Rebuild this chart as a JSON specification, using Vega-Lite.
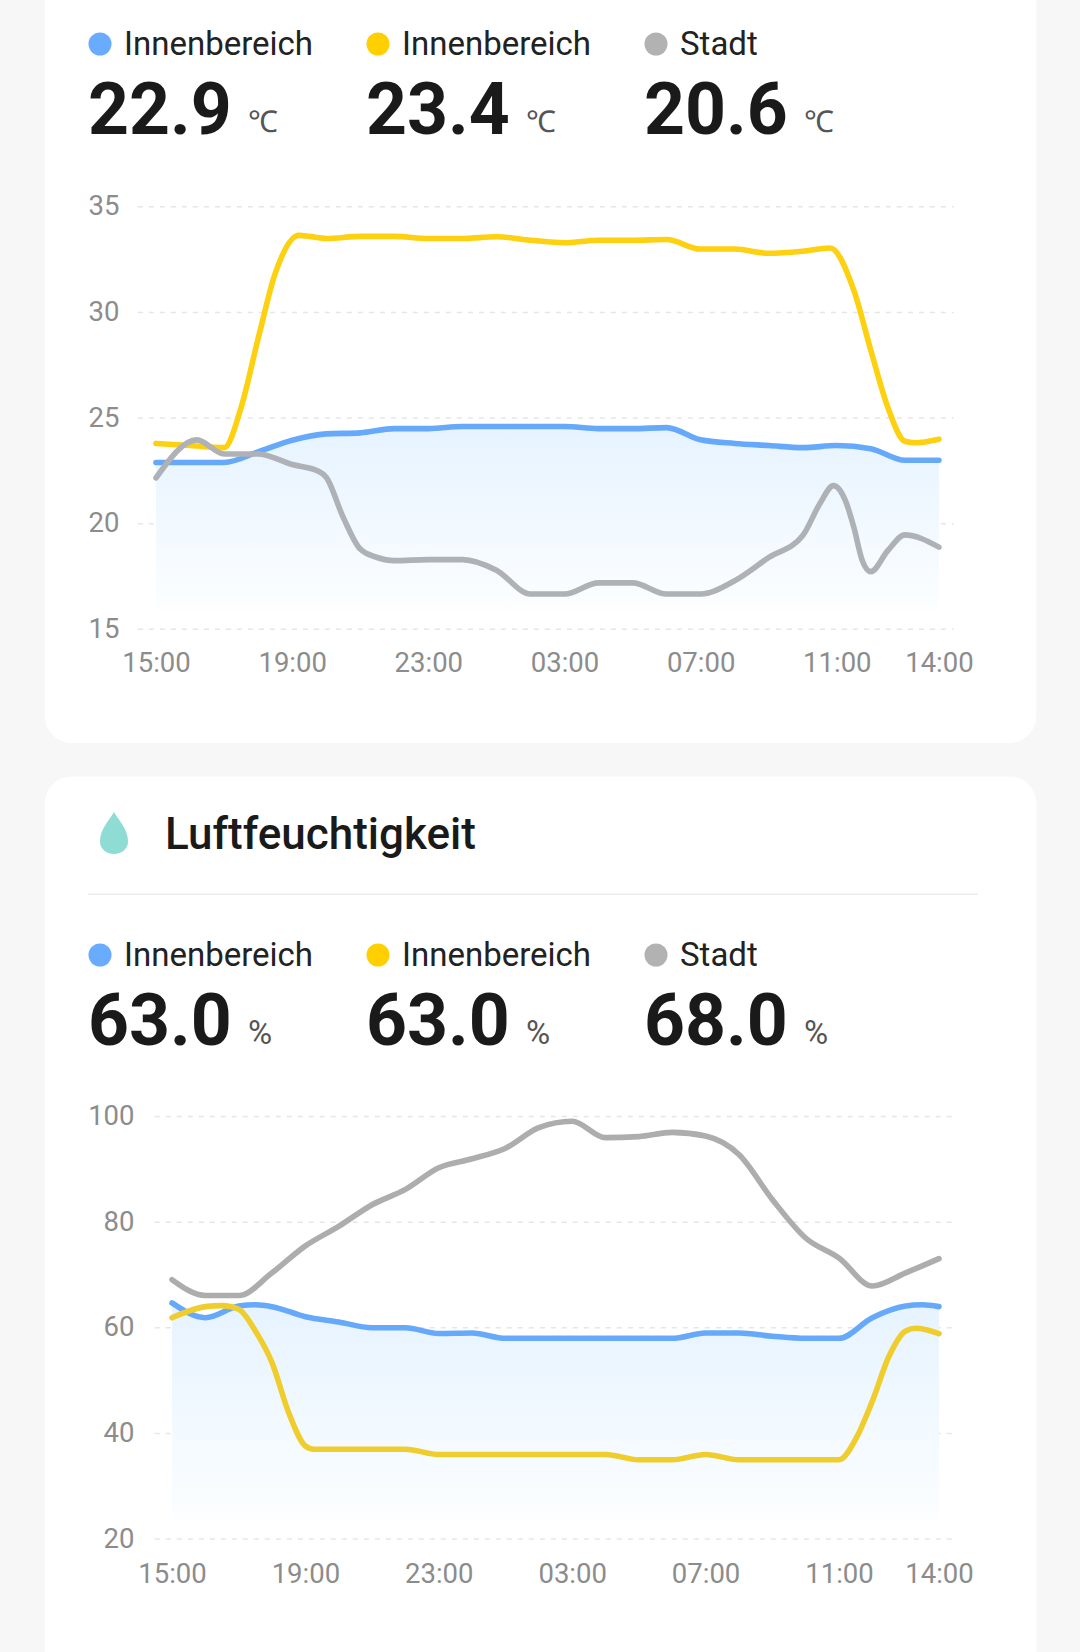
{
"$schema":"https://vega.github.io/schema/vega-lite/v6.json",
"width":1080,"height":1652,"padding":0,"autosize":{"type":"none"},"background":"#f7f7f7",
"config":{"view":{"stroke":null}},
"datasets":{
"temp":[
{"s":"A","t":"2024-01-01T15:00","v":22.9},{"s":"A","t":"2024-01-01T16:00","v":22.9},{"s":"A","t":"2024-01-01T17:00","v":22.9},{"s":"A","t":"2024-01-01T18:00","v":23.4},{"s":"A","t":"2024-01-01T19:00","v":23.95},{"s":"A","t":"2024-01-01T20:00","v":24.25},{"s":"A","t":"2024-01-01T21:00","v":24.3},{"s":"A","t":"2024-01-01T22:00","v":24.5},{"s":"A","t":"2024-01-01T23:00","v":24.5},{"s":"A","t":"2024-01-02T00:00","v":24.6},{"s":"A","t":"2024-01-02T01:00","v":24.6},{"s":"A","t":"2024-01-02T02:00","v":24.6},{"s":"A","t":"2024-01-02T03:00","v":24.6},{"s":"A","t":"2024-01-02T04:00","v":24.5},{"s":"A","t":"2024-01-02T05:00","v":24.5},{"s":"A","t":"2024-01-02T06:00","v":24.55},{"s":"A","t":"2024-01-02T07:00","v":23.97},{"s":"A","t":"2024-01-02T08:00","v":23.8},{"s":"A","t":"2024-01-02T09:00","v":23.7},{"s":"A","t":"2024-01-02T10:00","v":23.6},{"s":"A","t":"2024-01-02T11:00","v":23.7},{"s":"A","t":"2024-01-02T12:00","v":23.55},{"s":"A","t":"2024-01-02T13:00","v":23.0},{"s":"A","t":"2024-01-02T14:00","v":23.0},
{"s":"B","t":"2024-01-01T15:00","v":23.8},{"s":"B","t":"2024-01-01T16:00","v":23.7},{"s":"B","t":"2024-01-01T17:00","v":23.6},{"s":"B","t":"2024-01-01T17:30","v":25.5},{"s":"B","t":"2024-01-01T18:00","v":28.76},{"s":"B","t":"2024-01-01T18:30","v":31.84},{"s":"B","t":"2024-01-01T19:12","v":33.65},{"s":"B","t":"2024-01-01T19:30","v":33.6},{"s":"B","t":"2024-01-01T20:00","v":33.5},{"s":"B","t":"2024-01-01T21:00","v":33.6},{"s":"B","t":"2024-01-01T22:00","v":33.6},{"s":"B","t":"2024-01-01T23:00","v":33.5},{"s":"B","t":"2024-01-02T00:00","v":33.5},{"s":"B","t":"2024-01-02T01:00","v":33.58},{"s":"B","t":"2024-01-02T02:00","v":33.42},{"s":"B","t":"2024-01-02T03:00","v":33.3},{"s":"B","t":"2024-01-02T04:00","v":33.42},{"s":"B","t":"2024-01-02T05:00","v":33.42},{"s":"B","t":"2024-01-02T06:00","v":33.45},{"s":"B","t":"2024-01-02T07:00","v":33.0},{"s":"B","t":"2024-01-02T08:00","v":33.0},{"s":"B","t":"2024-01-02T09:00","v":32.8},{"s":"B","t":"2024-01-02T10:00","v":32.9},{"s":"B","t":"2024-01-02T10:48","v":33.05},{"s":"B","t":"2024-01-02T11:30","v":31.05},{"s":"B","t":"2024-01-02T12:00","v":28.2},{"s":"B","t":"2024-01-02T12:30","v":25.5},{"s":"B","t":"2024-01-02T13:00","v":23.9},{"s":"B","t":"2024-01-02T13:18","v":23.83},{"s":"B","t":"2024-01-02T14:00","v":24.0},
{"s":"C","t":"2024-01-01T15:00","v":22.17},{"s":"C","t":"2024-01-01T16:12","v":23.97},{"s":"C","t":"2024-01-01T17:00","v":23.3},{"s":"C","t":"2024-01-01T18:00","v":23.3},{"s":"C","t":"2024-01-01T19:00","v":22.8},{"s":"C","t":"2024-01-01T19:45","v":22.5},{"s":"C","t":"2024-01-01T20:00","v":22.2},{"s":"C","t":"2024-01-01T20:30","v":20.3},{"s":"C","t":"2024-01-01T21:00","v":18.8},{"s":"C","t":"2024-01-01T21:30","v":18.4},{"s":"C","t":"2024-01-01T22:00","v":18.25},{"s":"C","t":"2024-01-01T23:00","v":18.3},{"s":"C","t":"2024-01-02T00:00","v":18.3},{"s":"C","t":"2024-01-02T01:00","v":17.8},{"s":"C","t":"2024-01-02T02:00","v":16.67},{"s":"C","t":"2024-01-02T03:00","v":16.67},{"s":"C","t":"2024-01-02T04:00","v":17.2},{"s":"C","t":"2024-01-02T05:00","v":17.2},{"s":"C","t":"2024-01-02T06:00","v":16.67},{"s":"C","t":"2024-01-02T07:00","v":16.67},{"s":"C","t":"2024-01-02T08:00","v":17.3},{"s":"C","t":"2024-01-02T09:00","v":18.4},{"s":"C","t":"2024-01-02T10:00","v":19.44},{"s":"C","t":"2024-01-02T10:30","v":20.94},{"s":"C","t":"2024-01-02T10:54","v":21.8},{"s":"C","t":"2024-01-02T11:15","v":21.1},{"s":"C","t":"2024-01-02T11:30","v":19.83},{"s":"C","t":"2024-01-02T11:45","v":18.25},{"s":"C","t":"2024-01-02T12:00","v":17.73},{"s":"C","t":"2024-01-02T12:30","v":18.73},{"s":"C","t":"2024-01-02T13:00","v":19.47},{"s":"C","t":"2024-01-02T14:00","v":18.89}
],
"hum":[
{"s":"A","t":"2024-01-01T15:00","v":64.7},{"s":"A","t":"2024-01-01T16:00","v":61.9},{"s":"A","t":"2024-01-01T17:00","v":64.1},{"s":"A","t":"2024-01-01T17:30","v":64.35},{"s":"A","t":"2024-01-01T18:00","v":64.0},{"s":"A","t":"2024-01-01T19:00","v":62.1},{"s":"A","t":"2024-01-01T20:00","v":61.1},{"s":"A","t":"2024-01-01T21:00","v":60},{"s":"A","t":"2024-01-01T22:00","v":60},{"s":"A","t":"2024-01-01T23:00","v":58.9},{"s":"A","t":"2024-01-02T00:00","v":59},{"s":"A","t":"2024-01-02T01:00","v":58},{"s":"A","t":"2024-01-02T02:00","v":58},{"s":"A","t":"2024-01-02T03:00","v":58},{"s":"A","t":"2024-01-02T04:00","v":58},{"s":"A","t":"2024-01-02T05:00","v":58},{"s":"A","t":"2024-01-02T06:00","v":58},{"s":"A","t":"2024-01-02T07:00","v":59},{"s":"A","t":"2024-01-02T08:00","v":59},{"s":"A","t":"2024-01-02T09:00","v":58.4},{"s":"A","t":"2024-01-02T10:00","v":58},{"s":"A","t":"2024-01-02T11:00","v":58},{"s":"A","t":"2024-01-02T12:00","v":61.9},{"s":"A","t":"2024-01-02T13:00","v":64.1},{"s":"A","t":"2024-01-02T13:30","v":64.35},{"s":"A","t":"2024-01-02T14:00","v":64},
{"s":"B","t":"2024-01-01T15:00","v":61.9},{"s":"B","t":"2024-01-01T16:00","v":64},{"s":"B","t":"2024-01-01T16:30","v":64.2},{"s":"B","t":"2024-01-01T17:00","v":63.5},{"s":"B","t":"2024-01-01T17:30","v":59.4},{"s":"B","t":"2024-01-01T18:00","v":53.4},{"s":"B","t":"2024-01-01T18:30","v":43.9},{"s":"B","t":"2024-01-01T19:00","v":37.6},{"s":"B","t":"2024-01-01T19:15","v":37},{"s":"B","t":"2024-01-01T20:00","v":37},{"s":"B","t":"2024-01-01T21:00","v":37},{"s":"B","t":"2024-01-01T22:00","v":37},{"s":"B","t":"2024-01-01T23:00","v":36},{"s":"B","t":"2024-01-02T00:00","v":36},{"s":"B","t":"2024-01-02T01:00","v":36},{"s":"B","t":"2024-01-02T02:00","v":36},{"s":"B","t":"2024-01-02T03:00","v":36},{"s":"B","t":"2024-01-02T04:00","v":36},{"s":"B","t":"2024-01-02T05:00","v":35},{"s":"B","t":"2024-01-02T06:00","v":35},{"s":"B","t":"2024-01-02T07:00","v":36},{"s":"B","t":"2024-01-02T08:00","v":35},{"s":"B","t":"2024-01-02T09:00","v":35},{"s":"B","t":"2024-01-02T10:00","v":35},{"s":"B","t":"2024-01-02T11:00","v":35},{"s":"B","t":"2024-01-02T11:30","v":38.9},{"s":"B","t":"2024-01-02T12:00","v":46.1},{"s":"B","t":"2024-01-02T12:30","v":54.6},{"s":"B","t":"2024-01-02T13:00","v":59.4},{"s":"B","t":"2024-01-02T13:18","v":59.9},{"s":"B","t":"2024-01-02T14:00","v":58.9},
{"s":"C","t":"2024-01-01T15:00","v":69.1},{"s":"C","t":"2024-01-01T16:00","v":66.1},{"s":"C","t":"2024-01-01T17:00","v":66.1},{"s":"C","t":"2024-01-01T18:00","v":70.4},{"s":"C","t":"2024-01-01T19:00","v":75.5},{"s":"C","t":"2024-01-01T20:00","v":79.2},{"s":"C","t":"2024-01-01T21:00","v":83.3},{"s":"C","t":"2024-01-01T22:00","v":86.2},{"s":"C","t":"2024-01-01T23:00","v":90.3},{"s":"C","t":"2024-01-02T00:00","v":92},{"s":"C","t":"2024-01-02T01:00","v":94},{"s":"C","t":"2024-01-02T02:00","v":97.9},{"s":"C","t":"2024-01-02T03:00","v":99.1},{"s":"C","t":"2024-01-02T04:00","v":96},{"s":"C","t":"2024-01-02T05:00","v":96.2},{"s":"C","t":"2024-01-02T06:00","v":97},{"s":"C","t":"2024-01-02T07:00","v":96.3},{"s":"C","t":"2024-01-02T08:00","v":92.8},{"s":"C","t":"2024-01-02T09:00","v":84.3},{"s":"C","t":"2024-01-02T10:00","v":77},{"s":"C","t":"2024-01-02T11:00","v":73.2},{"s":"C","t":"2024-01-02T12:00","v":67.9},{"s":"C","t":"2024-01-02T13:00","v":70.4},{"s":"C","t":"2024-01-02T14:00","v":73.1}
],
"head":[
{"metric":"Temperatur","s":"A","name":"Innenbereich","value":"22.9","unit":"℃"},
{"metric":"Temperatur","s":"B","name":"Innenbereich","value":"23.4","unit":"℃"},
{"metric":"Temperatur","s":"C","name":"Stadt","value":"20.6","unit":"℃"},
{"metric":"Luftfeuchtigkeit","s":"A","name":"Innenbereich","value":"63.0","unit":"%"},
{"metric":"Luftfeuchtigkeit","s":"B","name":"Innenbereich","value":"63.0","unit":"%"},
{"metric":"Luftfeuchtigkeit","s":"C","name":"Stadt","value":"68.0","unit":"%"}
]
},
"resolve":{"scale":{"x":"independent","y":"independent","color":"independent"}},
"layer":[
{
"data":{"values":[{"card":"Temperatur"}]},
"mark":{"type":"rect","fill":"#ffffff","cornerRadius":27},
"encoding":{
"x":{"datum":{"year":2024,"month":1,"date":1,"hours":11,"minutes":44},"axis":null,"scale":{"domain":["2024-01-01T10:25:02","2024-01-02T18:08:39"],"nice":false}},
"x2":{"datum":{"year":2024,"month":1,"date":2,"hours":16,"minutes":51,"seconds":36}},
"y":{"datum":47,"axis":null,"scale":{"domain":[-33.41,44.79],"nice":false,"zero":false}},
"y2":{"datum":9.62}
}
},
{
"data":{"values":[{"card":"Luftfeuchtigkeit"}]},
"mark":{"type":"rect","fill":"#ffffff","cornerRadius":27},
"encoding":{
"x":{"datum":{"year":2024,"month":1,"date":1,"hours":11,"minutes":11,"seconds":9},"axis":null,"scale":{"domain":["2024-01-01T09:50:32","2024-01-02T18:13:40"],"nice":false}},
"x2":{"datum":{"year":2024,"month":1,"date":2,"hours":16,"minutes":55,"seconds":15}},
"y":{"datum":164.38,"axis":null,"scale":{"domain":[-1.397,311.42],"nice":false,"zero":false}},
"y2":{"datum":-20}
}
},
{
"data":{"values":[{"tick":15},{"tick":20},{"tick":25},{"tick":30},{"tick":35}]},
"mark":{"type":"rule","stroke":"#e6e6e8","strokeWidth":1.5,"strokeDash":[5,6]},
"encoding":{
"x":{"datum":{"year":2024,"month":1,"date":1,"hours":14,"minutes":28},"axis":null,"scale":{"domain":["2024-01-01T10:25:02","2024-01-02T18:08:39"],"nice":false}},
"x2":{"datum":{"year":2024,"month":1,"date":2,"hours":14,"minutes":26}},
"y":{"field":"tick","type":"quantitative","axis":null,"scale":{"domain":[-33.41,44.79],"nice":false,"zero":false}}
}
},
{
"encoding":{
"x":{"field":"t","type":"temporal","scale":{"domain":["2024-01-01T10:25:02","2024-01-02T18:08:39"],"nice":false},"axis":{"orient":"bottom","values":["2024-01-01T15:00","2024-01-01T19:00","2024-01-01T23:00","2024-01-02T03:00","2024-01-02T07:00","2024-01-02T11:00","2024-01-02T14:00"],"format":"%H:%M","offset":-1022.7,"title":null,"domain":false,"ticks":false,"grid":false,"labelFont":"Roboto","labelFontSize":27.5,"labelColor":"#8c8c8c","labelPadding":20,"labelOverlap":false,"labelFlush":false,"zindex":1}},
"y":{"field":"v","type":"quantitative","scale":{"domain":[-33.41,44.79],"nice":false,"zero":false},"axis":{"orient":"left","values":[15,20,25,30,35],"offset":-119,"title":null,"domain":false,"ticks":false,"grid":false,"labelFont":"Roboto","labelFontSize":27.5,"labelColor":"#8c8c8c","labelPadding":0,"zindex":1}}
},
"layer":[
{"data":{"name":"temp"},"transform":[{"filter":"datum.s==='A'"}],"mark":{"type":"area","interpolate":"monotone","fill":{"gradient":"linear","x1":0,"y1":0,"x2":0,"y2":1,"stops":[{"offset":0,"color":"#e6f3ff"},{"offset":1,"color":"#fcfeff"}]}},
"encoding":{"y2":{"datum":15.9}}},
{"data":{"name":"temp"},"mark":{"type":"line","interpolate":"monotone","strokeWidth":5.6,"strokeCap":"round","strokeJoin":"round"},
"encoding":{"color":{"field":"s","type":"nominal","legend":null,"scale":{"domain":["A","B","C"],"range":["#66a9fb","#fdd010","#aeb1b5"]}}}}
]
},
{
"data":{"values":[{"tick":20},{"tick":40},{"tick":60},{"tick":80},{"tick":100}]},
"mark":{"type":"rule","stroke":"#e6e6e8","strokeWidth":1.5,"strokeDash":[5,6]},
"encoding":{
"x":{"datum":{"year":2024,"month":1,"date":1,"hours":14,"minutes":29},"axis":null,"scale":{"domain":["2024-01-01T09:50:32","2024-01-02T18:13:40"],"nice":false}},
"x2":{"datum":{"year":2024,"month":1,"date":2,"hours":14,"minutes":27}},
"y":{"field":"tick","type":"quantitative","axis":null,"scale":{"domain":[-1.397,311.42],"nice":false,"zero":false}}
}
},
{
"data":{"values":[{"card":"Luftfeuchtigkeit"}]},
"mark":{"type":"rule","stroke":"#ececec","strokeWidth":1.5},
"encoding":{
"x":{"datum":{"year":2024,"month":1,"date":1,"hours":12,"minutes":29},"axis":null,"scale":{"domain":["2024-01-01T09:50:32","2024-01-02T18:13:40"],"nice":false}},
"x2":{"datum":{"year":2024,"month":1,"date":2,"hours":15,"minutes":10}},
"y":{"datum":142.1,"axis":null,"scale":{"domain":[-1.397,311.42],"nice":false,"zero":false}}
}
},
{
"encoding":{
"x":{"field":"t","type":"temporal","scale":{"domain":["2024-01-01T09:50:32","2024-01-02T18:13:40"],"nice":false},"axis":{"orient":"bottom","values":["2024-01-01T15:00","2024-01-01T19:00","2024-01-01T23:00","2024-01-02T03:00","2024-01-02T07:00","2024-01-02T11:00","2024-01-02T14:00"],"format":"%H:%M","offset":-113,"title":null,"domain":false,"ticks":false,"grid":false,"labelFont":"Roboto","labelFontSize":27.5,"labelColor":"#8c8c8c","labelPadding":21.5,"labelOverlap":false,"labelFlush":false,"zindex":1}},
"y":{"field":"v","type":"quantitative","scale":{"domain":[-1.397,311.42],"nice":false,"zero":false},"axis":{"orient":"left","values":[20,40,60,80,100],"offset":-134,"title":null,"domain":false,"ticks":false,"grid":false,"labelFont":"Roboto","labelFontSize":27.5,"labelColor":"#8c8c8c","labelPadding":0,"zindex":1}}
},
"layer":[
{"data":{"name":"hum"},"transform":[{"filter":"datum.s==='A'"}],"mark":{"type":"area","interpolate":"monotone","fill":{"gradient":"linear","x1":0,"y1":0,"x2":0,"y2":1,"stops":[{"offset":0,"color":"#e6f3ff"},{"offset":1,"color":"#fcfeff"}]}},
"encoding":{"y2":{"datum":23.6}}},
{"data":{"name":"hum"},"mark":{"type":"line","interpolate":"monotone","strokeWidth":5.6,"strokeCap":"round","strokeJoin":"round"},
"encoding":{"color":{"field":"s","type":"nominal","legend":null,"scale":{"domain":["A","B","C"],"range":["#66a9fb","#efcd2c","#adadad"]}}}}
]
},
{
"data":{"name":"head"},
"encoding":{
"x":{"field":"s","type":"nominal","axis":null,"scale":{"type":"point","domain":["A","B","C"],"range":[88,644],"padding":0}},
"y":{"field":"metric","type":"nominal","axis":null,"scale":{"type":"point","domain":["Temperatur","Luftfeuchtigkeit"],"range":[44,955],"padding":0}}
},
"layer":[
{"mark":{"type":"point","filled":true,"size":530,"opacity":1,"xOffset":12},
"encoding":{"color":{"field":"s","type":"nominal","legend":null,"scale":{"domain":["A","B","C"],"range":["#69abff","#ffcf00","#b2b2b2"]}}}},
{"mark":{"type":"text","align":"left","baseline":"middle","font":"Roboto","fontSize":33,"fill":"#222222","dx":36,"dy":1},"encoding":{"text":{"field":"name"}}},
{"mark":{"type":"text","align":"left","baseline":"middle","font":"Roboto","fontSize":71.5,"fontWeight":"bold","fill":"#1a1a1a","dx":0,"dy":68.5},"encoding":{"text":{"field":"value"}}},
{"mark":{"type":"text","align":"left","baseline":"middle","font":"Roboto","fill":"#555555","dx":160,"dy":78.5},"encoding":{"text":{"field":"unit"},"size":{"condition":{"test":"datum.unit==='%'","value":33},"value":30}}},
{"data":{"values":[{"metric":"Luftfeuchtigkeit","s":"A","title":"Luftfeuchtigkeit"}]},"mark":{"type":"text","align":"left","baseline":"middle","font":"Roboto","fontSize":44,"fontWeight":500,"fill":"#1a1a1a","dx":77,"dy":-119},"encoding":{"text":{"field":"title"}}},
{"data":{"values":[{"metric":"Luftfeuchtigkeit","s":"A","icon":"drop"}]},"mark":{"type":"point","filled":true,"opacity":1,"size":1764,"fill":"#8fdcd4","shape":"M0,-1 C0.15,-0.7 0.67,-0.2 0.67,0.4 A0.67,0.6 0 1 1 -0.67,0.4 C-0.67,-0.2 -0.15,-0.7 0,-1 Z","xOffset":26,"yOffset":-122}}
]
}
]
}
